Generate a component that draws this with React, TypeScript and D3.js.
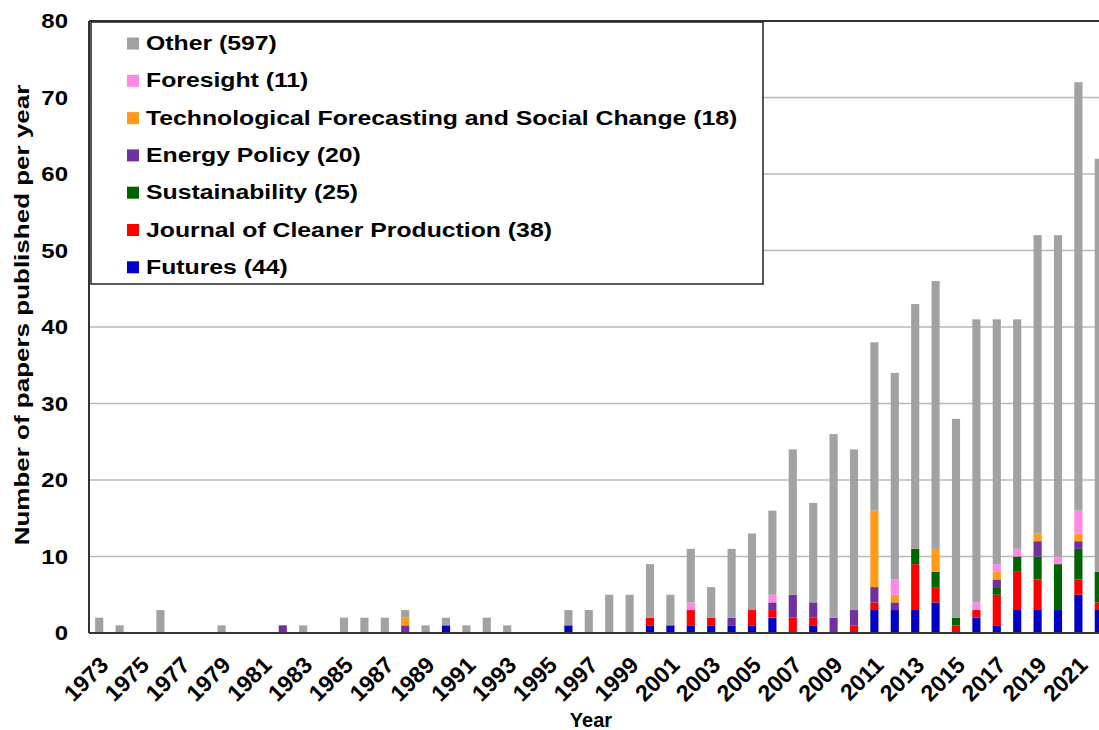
import React from "react";
import * as d3 from "d3";

const years = d3.range(1973, 2023).map(String);
const yTicks = [0, 10, 20, 30, 40, 50, 60, 70, 80];
const xTickYears = years.filter((_, i) => i % 2 === 0);

// stacking order bottom -> top
const futures = [
  0,0,0,0,0,0,0,0,0,0,
  0,0,0,0,0,0,0,1,0,0,
  0,0,0,1,0,0,0,1,1,1,
  1,1,1,2,0,1,0,0,3,3,
  3,4,0,2,1,3,3,3,5,3,
];
const cleanerProduction = [
  0,0,0,0,0,0,0,0,0,0,
  0,0,0,0,0,0,0,0,0,0,
  0,0,0,0,0,0,0,1,0,2,
  1,0,2,1,2,1,0,1,1,0,
  6,2,1,1,4,5,4,0,2,1,
];
const sustainability = [
  0,0,0,0,0,0,0,0,0,0,
  0,0,0,0,0,0,0,0,0,0,
  0,0,0,0,0,0,0,0,0,0,
  0,0,0,0,0,0,0,0,0,0,
  2,2,1,0,1,2,3,6,4,4,
];
const energyPolicy = [
  0,0,0,0,0,0,0,0,0,1,
  0,0,0,0,0,1,0,0,0,0,
  0,0,0,0,0,0,0,0,0,0,
  0,1,0,1,3,2,2,2,2,1,
  0,0,0,0,1,0,2,0,1,0,
];
const techForecasting = [
  0,0,0,0,0,0,0,0,0,0,
  0,0,0,0,0,1,0,0,0,0,
  0,0,0,0,0,0,0,0,0,0,
  0,0,0,0,0,0,0,0,10,1,
  0,3,0,0,1,0,1,0,1,0,
];
const foresight = [
  0,0,0,0,0,0,0,0,0,0,
  0,0,0,0,0,0,0,0,0,0,
  0,0,0,0,0,0,0,0,0,1,
  0,0,0,1,0,0,0,0,0,2,
  0,0,0,1,1,1,0,1,3,0,
];
const other = [
  2,1,0,3,0,0,1,0,0,0,
  1,0,2,2,2,1,1,1,1,2,
  1,0,0,2,3,5,5,7,4,7,
  4,9,10,11,19,13,24,21,22,27,
  32,35,26,37,32,30,39,42,56,54,
];

const seriesKeys = ["futures", "jcp", "sust", "ep", "tfsc", "foresight", "other"];
const seriesValues: Record<string, number[]> = {
  futures, jcp: cleanerProduction, sust: sustainability, ep: energyPolicy,
  tfsc: techForecasting, foresight, other,
};
const seriesColors: Record<string, string> = {
  futures: "#0000c8", jcp: "#ff0000", sust: "#006400", ep: "#7030a0",
  tfsc: "#ff9a1a", foresight: "#ff88e4", other: "#a2a2a2",
};
const legendOrder = ["other", "foresight", "tfsc", "ep", "sust", "jcp", "futures"];
const legendLabels: Record<string, string> = {
  other: "Other (597)",
  foresight: "Foresight (11)",
  tfsc: "Technological Forecasting and Social Change (18)",
  ep: "Energy Policy (20)",
  sust: "Sustainability (25)",
  jcp: "Journal of Cleaner Production (38)",
  futures: "Futures (44)",
};

const FONT = "'Liberation Sans', Arial, Helvetica, sans-serif";
const SX = 1.2; // horizontal widening of the label glyphs

export default function App() {
  const W = 1099, H = 730;
  const left = 89, top = 21, bottom = 633;
  const right = left + years.length * 20.4;

  const x = d3.scaleBand<string>().domain(years).range([left, right]).paddingInner(0.6).paddingOuter(0.3);
  const y = d3.scaleLinear().domain([0, 80]).range([bottom, top]);

  const table = years.map((yr, i) => {
    const row: any = { year: yr };
    seriesKeys.forEach((k) => (row[k] = seriesValues[k][i]));
    return row;
  });
  const stacked = d3.stack<any>().keys(seriesKeys)(table);

  return (
    <svg width={W} height={H} style={{ position: "absolute", left: 0, top: 0, background: "#fff" }}
      fontFamily={FONT} fontWeight="bold">
      {/* gridlines */}
      {yTicks.filter((t) => t > 0 && t < 80).map((t) => (
        <line key={t} x1={left} x2={W} y1={y(t)} y2={y(t)} stroke="#b8b8b8" strokeWidth={1.5} />
      ))}
      {/* bars */}
      {stacked.map((s) => (
        <g key={s.key} fill={seriesColors[s.key]}>
          {s.map((d, i) =>
            d[1] - d[0] > 0 ? (
              <rect key={i} x={x(years[i])} width={x.bandwidth()} y={y(d[1])} height={y(d[0]) - y(d[1])} />
            ) : null
          )}
        </g>
      ))}
      {/* axes frame */}
      <line x1={left} x2={W} y1={top} y2={top} stroke="#333" strokeWidth={2} />
      <line x1={left} x2={W} y1={bottom} y2={bottom} stroke="#333" strokeWidth={2} />
      <line x1={left} x2={left} y1={top} y2={bottom} stroke="#333" strokeWidth={2} />
      {/* y ticks */}
      {yTicks.map((t) => (
        <text key={t} transform={`translate(68,${y(t)}) scale(${SX},1)`} dy="0.36em" textAnchor="end" fontSize={20}>{t}</text>
      ))}
      {/* x ticks */}
      {xTickYears.map((yr) => {
        const cx = (x(yr) as number) + x.bandwidth() / 2 - 1;
        return (
          <text key={yr} transform={`translate(${cx},${655}) rotate(-45)`} textAnchor="end" dy="0.71em" fontSize={23}>
            {yr}
          </text>
        );
      })}
      {/* axis titles */}
      <text x={591} y={727} textAnchor="middle" fontSize={20}>Year</text>
      <text transform={`translate(29,315) rotate(-90) scale(1.3,1)`} textAnchor="middle" fontSize={20}>
        Number of papers published per year
      </text>
      {/* legend */}
      <rect x={91} y={22} width={672} height={262} fill="#fff" stroke="#222" strokeWidth={1.5} />
      {legendOrder.map((k, i) => {
        const cy = 43.5 + i * 37.3;
        return (
          <g key={k}>
            <rect x={127} y={cy - 6} width={12} height={12} fill={seriesColors[k]} />
            <text transform={`translate(146,${50 + i * 37.3}) scale(1.18,1)`} fontSize={21}>{legendLabels[k]}</text>
          </g>
        );
      })}
    </svg>
  );
}
